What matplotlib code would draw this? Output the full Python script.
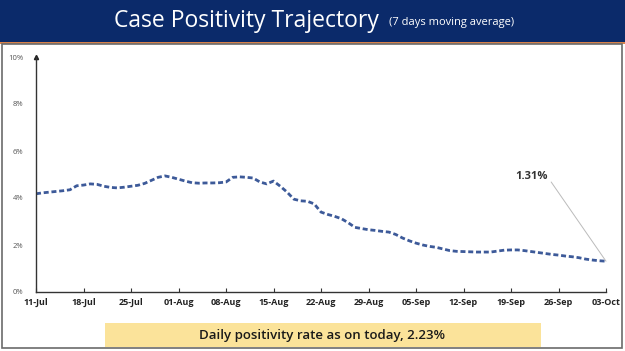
import numpy as np
import matplotlib
matplotlib.use("Agg")
import matplotlib.pyplot as plt
from matplotlib.patches import Rectangle

# 7-day moving average case positivity (%), daily from 11-Jul to 03-Oct
positivity = [
    4.18, 4.22, 4.25, 4.28, 4.31, 4.35, 4.52, 4.55, 4.60, 4.58,
    4.50, 4.45, 4.43, 4.46, 4.50, 4.54, 4.62, 4.75, 4.88, 4.94,
    4.88, 4.80, 4.72, 4.65, 4.63, 4.64, 4.64, 4.65, 4.68, 4.88,
    4.90, 4.88, 4.85, 4.68, 4.60, 4.72, 4.50, 4.25, 3.95, 3.88,
    3.86, 3.75, 3.40, 3.30, 3.22, 3.12, 2.95, 2.75, 2.70, 2.65,
    2.62, 2.58, 2.55, 2.45, 2.30, 2.18, 2.08, 2.00, 1.94, 1.90,
    1.83, 1.76, 1.73, 1.72, 1.71, 1.70, 1.70, 1.70, 1.74, 1.78,
    1.79, 1.79, 1.76, 1.72, 1.68, 1.64, 1.60, 1.57, 1.53, 1.50,
    1.46, 1.40, 1.36, 1.33, 1.31,
]
tick_labels = ["11-Jul", "18-Jul", "25-Jul", "01-Aug", "08-Aug", "15-Aug", "22-Aug",
               "29-Aug", "05-Sep", "12-Sep", "19-Sep", "26-Sep", "03-Oct"]
y_ticks = [0, 2, 4, 6, 8, 10]
last_label = "1.31%"
daily_rate_text = "Daily positivity rate as on today, 2.23%"

plt.rcParams['font.family'] = ['Open Sans', 'DejaVu Sans']

W, H = 625, 351
fig = plt.figure(figsize=(W / 100, H / 100), dpi=100)
fig.patch.set_facecolor('white')

# banner
fig.patches.append(Rectangle((0, 1 - 42 / H), 1, 42 / H, transform=fig.transFigure,
                             facecolor='#0B2A6A', edgecolor='none', zorder=0))
fig.patches.append(Rectangle((0, 1 - 44 / H), 1, 2 / H, transform=fig.transFigure,
                             facecolor='#D9824A', edgecolor='none', zorder=0))
# frame
fig.patches.append(Rectangle((2 / W, 3 / H), 620 / W, (H - 47) / H, transform=fig.transFigure,
                             facecolor='none', edgecolor='#6b6b6b', lw=1.2, zorder=0))

fig.text(0.395, 1 - 21 / H, "Case Positivity Trajectory", color='white', fontsize=16.5,
         ha='center', va='center')
fig.text(0.622, 1 - 22 / H, "(7 days moving average)", color='white', fontsize=8,
         ha='left', va='center')

ax = fig.add_axes([36 / W, 1 - 292 / H, 570 / W, 235 / H])
x = np.arange(len(positivity))
ax.plot(x, positivity, color='#3D5A99', lw=2.0, linestyle=(0, (1.8, 1.0)),
        dash_capstyle='butt')

ax.set_xlim(0, len(positivity) - 1)
ax.set_ylim(0, 10)
ax.set_xticks(np.arange(0, len(positivity), 7))
ax.set_xticklabels(tick_labels, fontsize=6.5, fontweight='bold', color='#222222')
ax.set_yticks(y_ticks)
ax.set_yticklabels([f"{v}%" for v in y_ticks], fontsize=5.5, color='#555555')
ax.tick_params(axis='x', direction='in', length=3, width=0.8, pad=4, color='#333333')
ax.tick_params(axis='y', length=0, pad=9)
for s in ['top', 'right']:
    ax.spines[s].set_visible(False)
for s in ['left', 'bottom']:
    ax.spines[s].set_color('#333333')
    ax.spines[s].set_linewidth(1.0)
ax.plot(0, 1, marker='^', color='#222222', markersize=3, transform=ax.transAxes,
        clip_on=False)

ax.annotate(last_label, xy=(x[-1], positivity[-1]), xytext=(73, 4.9),
            textcoords='data', ha='center', va='center', fontsize=8,
            fontweight='bold', color='#333333',
            arrowprops=dict(arrowstyle='-', color='#bbbbbb', lw=0.7,
                            relpos=(1, 0.5), shrinkA=1, shrinkB=0))

# yellow note box
fig.patches.append(Rectangle((105 / W, 1 - 347 / H), 436 / W, 24 / H, transform=fig.transFigure,
                             facecolor='#FBE39A', edgecolor='none', zorder=1))
fig.text(322 / W, 1 - 335 / H, daily_rate_text, fontsize=9.5, color='#1a1a1a',
         ha='center', va='center', fontweight='semibold', zorder=2)

fig.savefig('out.png', dpi=100)
